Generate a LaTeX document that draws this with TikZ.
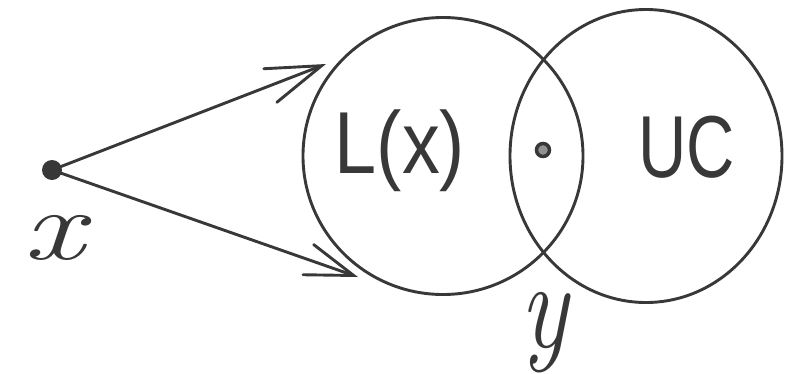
\documentclass[tikz,border=0pt]{standalone}
\usepackage{fontspec}
\newfontfamily\handsans{Liberation Sans}
\usetikzlibrary{shapes.geometric,arrows.meta}
\definecolor{ink}{HTML}{383838}
\begin{document}
\begin{tikzpicture}[x=1pt,y=-1pt,
  stroke/.style={draw=ink, line width=2.9pt},
  setring/.style={ellipse, stroke, inner sep=0pt},
  bigtext/.style={text=ink, font=\handsans\fontsize{88}{88}\selectfont, inner sep=0pt, anchor=base},
  lettertext/.style={text=ink, font=\itshape\fontsize{100}{100}\selectfont, inner sep=0pt},
  arrowline/.style={stroke, line cap=round, line join=round}
]
\useasboundingbox (0,0) rectangle (787,373);
\fill[white] (0,0) rectangle (787,373);
% sets
\node[setring, minimum width=280pt, minimum height=277pt] (L) at (443,156) {};
\node[setring, minimum width=272pt, minimum height=293pt] (U) at (646,156) {};
% points
\node[circle, fill=ink, minimum size=20pt, inner sep=0pt] (xpt) at (52,170) {};
\node[circle, draw=ink, line width=3.5pt, fill=ink!55, minimum size=13pt, inner sep=0pt] (ypt) at (543,150) {};
% labels
\node[lettertext, xscale=1.35] (xlab) at (54,238) {x};
\node[lettertext, xscale=0.8, font=\itshape\fontsize{125}{125}\selectfont] (ylab) at (544,333) {y};
\node[bigtext, xscale=0.86] (Ltext) at (400,173) {L(x)};
\node[bigtext, xscale=0.76] (Utext) at (687,177) {UC};
% arrows
\coordinate (a1) at (326,64);
\coordinate (a2) at (358,277);
\draw[arrowline, -{Straight Barb[length=55pt,width=36pt,line cap=round]}] (xpt.center) -- (a1);
\draw[arrowline, -{Straight Barb[length=48pt,width=32pt,line cap=round]}] (xpt.center) -- (a2);
\end{tikzpicture}
\end{document}
